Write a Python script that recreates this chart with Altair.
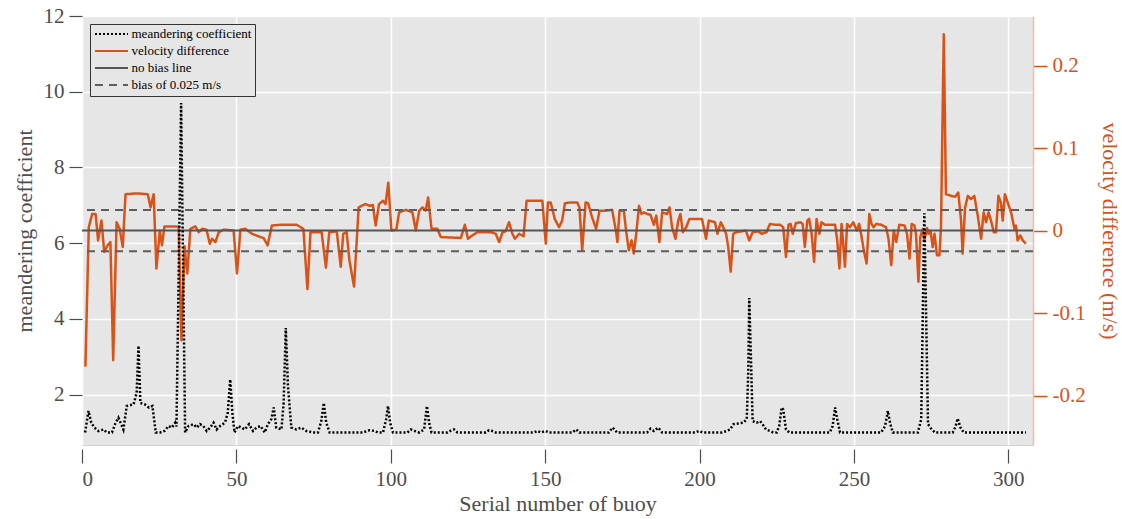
import altair as alt
import pandas as pd

# ---------------- data ----------------
vel_x = [1.1, 2.2, 3.3, 4.4, 5.2, 6.3, 7.2, 8.3, 9.2, 10.1, 11.2, 12.2, 13.2, 14.1, 17.9, 21.3, 22.2, 23.2,
         24.1, 25.2, 25.9, 26.7, 31.3, 32.2, 33.2, 34.1, 35.1, 36.7, 37.8, 38.9, 40.3, 41.4, 42.1, 43.2,
         44.3, 45.9, 49.1, 50.2, 51.3, 52.9, 55.1, 57.8, 58.8, 60.1, 61.5, 64.7, 69.5, 71.7, 73.0, 74.0,
         77.6, 79.0, 80.1, 82.5, 83.8, 84.6, 85.7, 86.6, 88.1, 89.6, 91.7, 93.2, 94.2, 95.1, 96.2, 97.5,
         98.3, 99.2, 100.2, 101.8, 102.7, 104.9, 107.0, 108.1, 109.2, 110.3, 111.3, 112.1, 113.2, 115.1,
         116.2, 122.7, 124.0, 125.0, 126.4, 128.1, 132.4, 134.0, 135.1, 136.2, 137.2, 138.3, 139.4, 140.2,
         141.6, 143.0, 144.0, 146.4, 149.1, 150.2, 150.9, 151.8, 153.1, 154.5, 155.5, 156.4, 158.2, 160.4,
         161.1, 162.0, 163.1, 163.9, 165.2, 166.5, 167.6, 169.6, 171.7, 173.0, 173.4, 174.1, 175.5, 176.2,
         177.1, 178.0, 178.7, 179.5, 180.4, 181.2, 182.0, 183.0, 184.1, 185.2, 186.0, 187.0, 187.9, 189.5,
         190.3, 191.1, 192.2, 193.1, 193.8, 194.6, 195.7, 196.7, 200.8, 202.1, 203.0, 205.0, 205.8, 206.9,
         207.7, 208.6, 209.3, 210.1, 210.9, 212.0, 213.6, 215.0, 216.1, 217.2, 219.0, 220.1, 221.7, 222.8,
         224.4, 226.1, 227.1, 228.0, 228.8, 229.5, 230.2, 231.2, 232.7, 233.4, 234.1, 234.9, 235.5, 236.3,
         237.1, 237.9, 238.8, 239.5, 240.6, 243.9, 244.6, 245.3, 246.0, 246.6, 247.1, 247.8, 248.7, 249.8,
         250.9, 251.7, 252.5, 253.2, 254.1, 255.0, 255.7, 256.4, 257.2, 258.8, 260.4, 261.2, 262.1, 262.9,
         263.7, 264.7, 266.4, 267.2, 268.0, 268.7, 269.6, 270.1, 270.9, 271.5, 272.3, 272.8, 273.7, 274.1,
         274.8, 275.5, 276.1, 276.9, 277.7, 278.2, 279.1, 279.8, 281.5, 282.8, 283.8, 284.7, 285.2, 286.0,
         286.9, 287.9, 289.0, 290.1, 291.2, 292.0, 292.8, 293.6, 294.4, 295.3, 296.0, 296.8, 297.6, 298.2,
         298.9, 299.8, 300.9, 302.0, 302.5, 303.0, 303.9, 304.7, 305.7]
vel_v = [-0.165, 0.004, 0.020, 0.020, -0.012, 0.012, -0.026, -0.018, -0.014, -0.157, 0.010, 0.002, -0.020,
         0.044, 0.045, 0.044, 0.028, 0.044, -0.046, 0.000, -0.018, 0.005, 0.005, -0.133, -0.019, -0.052,
         0.002, 0.005, -0.002, 0.002, 0.001, -0.016, -0.010, -0.014, -0.002, 0.001, 0.000, -0.052, 0.001,
         0.002, -0.004, -0.008, -0.009, -0.018, 0.006, 0.007, 0.007, 0.002, -0.071, -0.002, -0.002, -0.045,
         -0.002, -0.001, -0.044, -0.004, -0.002, -0.036, -0.068, 0.028, 0.032, 0.030, 0.031, 0.006, 0.032,
         0.036, 0.032, 0.058, 0.000, 0.001, 0.022, 0.025, 0.022, 0.000, 0.024, 0.028, 0.024, 0.040, 0.002,
         0.002, -0.008, -0.009, 0.007, -0.010, -0.006, -0.002, -0.002, -0.004, -0.014, -0.002, -0.001, 0.010,
         -0.004, -0.010, -0.004, -0.007, 0.036, 0.036, 0.036, -0.016, 0.034, 0.034, 0.014, 0.004, 0.012,
         0.033, 0.034, 0.034, 0.028, -0.024, 0.034, 0.033, 0.016, 0.002, 0.024, 0.024, 0.025, -0.002, -0.014,
         0.024, 0.024, 0.000, -0.024, -0.012, -0.028, -0.004, 0.030, 0.020, 0.022, 0.020, 0.019, 0.007, 0.018,
         -0.014, 0.022, 0.020, 0.028, 0.004, -0.010, 0.012, 0.020, -0.002, 0.004, 0.014, 0.014, -0.010, 0.012,
         0.010, -0.004, 0.010, 0.004, -0.004, -0.020, -0.050, -0.004, -0.002, -0.001, 0.000, -0.012, -0.002,
         -0.001, -0.004, -0.002, 0.008, 0.007, 0.007, 0.004, -0.032, 0.007, 0.008, -0.004, 0.009, 0.010, 0.008,
         -0.020, 0.012, 0.014, -0.004, -0.038, 0.014, -0.004, 0.010, 0.007, 0.007, -0.012, -0.046, 0.008,
         -0.020, -0.044, 0.008, 0.004, 0.010, 0.000, 0.008, -0.008, -0.024, -0.040, 0.020, 0.008, 0.004, 0.008,
         0.007, 0.004, -0.010, -0.042, 0.000, -0.014, 0.007, 0.006, -0.004, -0.034, 0.008, 0.006, -0.004,
         -0.062, -0.008, 0.002, -0.012, 0.003, -0.004, 0.000, -0.020, -0.004, -0.030, -0.030, 0.004, 0.238,
         0.044, 0.042, 0.041, 0.046, 0.012, -0.028, 0.028, 0.042, 0.038, 0.042, 0.018, -0.010, 0.022, 0.010,
         0.022, 0.012, -0.002, -0.002, 0.042, 0.034, 0.012, 0.044, 0.034, 0.022, 0.002, 0.006, -0.012, -0.006,
         -0.012, -0.016]

mc_x = [1.0, 2.1, 3.0, 4.0, 5.3, 7.0, 8.0, 9.7, 10.7, 11.8, 12.7, 13.4, 14.5, 16.7, 17.7, 18.3, 18.9, 20.4,
        21.7, 22.8, 23.9, 25.3, 26.7, 28.0, 29.1, 30.2, 30.6, 32.1, 33.4, 34.5, 36.1, 37.2, 38.2, 39.3, 40.4,
        41.5, 42.6, 43.6, 44.7, 46.3, 47.2, 48.0, 48.7, 49.4, 50.5, 51.6, 52.7, 54.1, 55.4, 56.5, 57.8, 59.2,
        60.2, 61.3, 62.1, 62.9, 64.6, 65.3, 66.0, 66.7, 67.8, 69.4, 71.0, 72.7, 74.8, 76.4, 77.5, 78.3, 79.1,
        80.2, 91.0, 93.1, 94.8, 95.8, 97.5, 98.5, 99.1, 99.8, 100.7, 105.4, 106.5, 107.8, 109.2, 110.8, 111.7,
        112.5, 113.2, 118.4, 119.7, 120.5, 121.6, 130.8, 131.8, 132.9, 134.0, 146.4, 147.5, 148.6, 150.2,
        151.3, 158.8, 160.1, 161.1, 170.6, 171.9, 173.3, 183.0, 184.1, 185.2, 186.6, 187.9, 198.7, 199.8,
        201.1, 207.2, 208.8, 209.9, 211.0, 212.6, 214.2, 215.3, 215.8, 216.1, 216.6, 217.2, 218.5, 219.6,
        220.4, 221.5, 222.8, 223.9, 225.0, 225.8, 226.6, 227.1, 228.0, 229.1, 242.2, 243.1, 243.9, 244.6,
        245.5, 258.8, 260.1, 261.0, 261.8, 262.6, 270.7, 271.8, 272.8, 274.0, 275.2, 276.3, 282.0, 282.9,
        283.6, 284.5, 285.6, 305.7]
mc_v = [1.0, 1.57, 1.26, 1.13, 1.04, 1.08, 1.0, 1.0, 1.22, 1.39, 1.22, 1.08, 1.70, 1.74, 2.05, 3.29, 1.78, 1.74,
        1.66, 1.70, 1.0, 1.0, 1.04, 1.17, 1.13, 1.26, 1.16, 9.70, 1.0, 1.17, 1.22, 1.13, 1.22, 1.17, 1.04,
        1.13, 1.26, 1.08, 1.17, 1.26, 1.52, 2.40, 1.52, 1.0, 1.17, 1.13, 1.08, 1.22, 1.04, 1.13, 1.17, 1.0,
        1.22, 1.35, 1.66, 1.13, 1.08, 1.78, 3.76, 2.23, 1.13, 1.08, 1.13, 1.04, 1.0, 1.0, 1.30, 1.78, 1.26,
        1.0, 1.0, 1.06, 1.04, 1.0, 1.0, 1.35, 1.70, 1.26, 1.0, 1.0, 1.08, 1.04, 1.0, 1.08, 1.70,
        1.22, 1.0, 1.0, 1.06, 1.08, 1.0, 1.0, 1.06, 1.04, 1.0, 1.0, 1.04, 1.0, 1.04,
        1.0, 1.0, 1.08, 1.0, 1.0, 1.13, 1.0, 1.0, 1.10, 1.04, 1.13, 1.0, 1.0, 1.04,
        1.0, 1.0, 1.04, 1.08, 1.22, 1.24, 1.26, 1.35, 2.67, 4.55, 3.11, 1.30, 1.26, 1.30,
        1.22, 1.08, 1.04, 1.0, 1.0, 1.17, 1.66, 1.61, 1.08, 1.0, 1.0, 1.17, 1.66, 1.35,
        1.0, 1.0, 1.17, 1.57, 1.22, 1.0, 1.0, 1.35, 6.79, 1.22, 1.08, 1.0, 1.0, 1.15,
        1.37, 1.13, 1.0, 1.0]

series_names = ["meandering coefficient", "velocity difference", "no bias line", "bias of 0.025 m/s"]
ref_levels = [0.0, 0.025, -0.025]
ref_series = ["no bias line", "bias of 0.025 m/s", "bias of 0.025 m/s"]

x_ticks = [0, 50, 100, 150, 200, 250, 300]
left_ticks = [2, 4, 6, 8, 10, 12]
right_ticks = [-0.2, -0.1, 0, 0.1, 0.2]

# ---------------- styling ----------------
FONT = "Liberation Serif"
ORANGE = "#D95319"
GRAY = "#4d4d4d"

vel_df = pd.DataFrame({"x": vel_x, "v": vel_v, "series": "velocity difference"})
mc_df = pd.DataFrame({"x": mc_x, "m": mc_v, "series": "meandering coefficient"})
ref_df = pd.DataFrame({"v": ref_levels, "series": ref_series, "k": [0, 1, 2]})

color_scale = alt.Scale(domain=series_names, range=["#000000", ORANGE, "#555555", "#5e5e5e"])
dash_scale = alt.Scale(domain=series_names, range=[[2, 2], [1, 0], [1, 0], [8, 6]])

leg = alt.Legend(
    title=None, orient="top-left", offset=8, symbolType="stroke", symbolSize=1089,
    symbolStrokeWidth=2.2, labelFont=FONT, labelFontSize=13, labelColor="black",
    strokeColor="#333333", fillColor="#E6E6E6", padding=3.5, rowPadding=3, labelOffset=2,
    clipHeight=13, cornerRadius=0,
)

x_axis = alt.Axis(
    values=x_ticks, title="Serial number of buoy", grid=True, gridColor="white", gridWidth=1.5,
    domain=False, tickColor=GRAY, tickSize=14, tickWidth=1.2, offset=4,
    labelFont=FONT, labelFontSize=21, labelColor=GRAY, labelPadding=5,
    titleFont=FONT, titleFontSize=22, titleColor=GRAY, titleFontWeight="normal", titlePadding=4,
)
x_enc = alt.X("x:Q", scale=alt.Scale(domain=[0, 308], nice=False, zero=False), axis=x_axis)

vel_scale = alt.Scale(domain=[-0.26, 0.26], nice=False, zero=False)

right_axis = alt.Axis(
    orient="right", values=right_ticks, grid=False, domain=True, domainColor="#F2BBA3", domainWidth=1.5,
    tickColor=ORANGE, tickSize=14, tickWidth=1.5,
    labelExpr="datum.value == 0 ? '0' : (datum.value < 0 ? '-' + format(-datum.value, '.1f') : format(datum.value, '.1f'))",
    labelFont=FONT, labelFontSize=21, labelColor=ORANGE, labelPadding=5,
    title="velocity difference (m/s)", titleFont=FONT, titleFontSize=22, titleColor=ORANGE,
    titleFontWeight="normal", titlePadding=12,
)
left_axis = alt.Axis(
    orient="left", values=left_ticks, grid=True, gridColor="white", gridWidth=1.5, domain=False,
    tickColor=GRAY, tickSize=13, tickWidth=1.2,
    labelFont=FONT, labelFontSize=21, labelColor=GRAY, labelPadding=5,
    title="meandering coefficient", titleFont=FONT, titleFontSize=22, titleColor=GRAY,
    titleFontWeight="normal", titlePadding=7,
)

vel = alt.Chart(vel_df).mark_line(strokeWidth=2.5, clip=True, strokeJoin="round").encode(
    x=x_enc,
    y=alt.Y("v:Q", scale=vel_scale, axis=right_axis),
    color=alt.Color("series:N", scale=color_scale, legend=leg),
    strokeDash=alt.StrokeDash("series:N", scale=dash_scale, legend=leg),
)

refs = alt.Chart(ref_df).mark_rule(strokeWidth=2).encode(
    y=alt.Y("v:Q", scale=vel_scale, axis=None),
    color=alt.Color("series:N", scale=color_scale, legend=leg),
    strokeDash=alt.StrokeDash("series:N", scale=dash_scale, legend=leg),
    detail="k:N",
)

mc = alt.Chart(mc_df).mark_line(strokeWidth=2.5, clip=True, strokeCap="butt").encode(
    x=x_enc,
    y=alt.Y("m:Q", scale=alt.Scale(domain=[0.67, 12], nice=False, zero=False), axis=left_axis),
    color=alt.Color("series:N", scale=color_scale, legend=leg),
    strokeDash=alt.StrokeDash("series:N", scale=dash_scale, legend=leg),
)

chart = (
    alt.layer(vel, refs, mc)
    .resolve_scale(y="independent")
    .properties(
        width=951, height=429, background="white",
        padding={"left": 82, "top": 16, "right": 89, "bottom": 74},
        autosize=alt.AutoSizeParams(type="none"),
    )
    .configure_view(fill="#E6E6E6", stroke="#d0d0d0", strokeWidth=1)
)

chart.save("out.html", embed_options={"renderer": "svg", "actions": False})
